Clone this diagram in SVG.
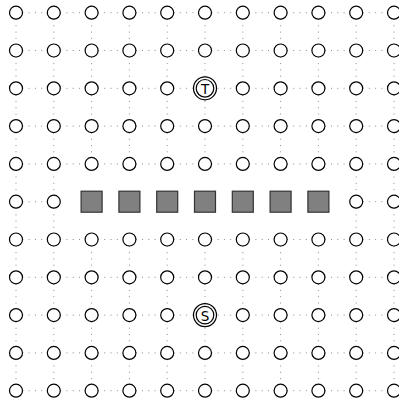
<svg xmlns="http://www.w3.org/2000/svg" width="399" height="401" viewBox="0 0 399 401">
<style>
.e{stroke:#8c8c8c;stroke-width:1;stroke-dasharray:1 5.3;fill:none}
.v{fill:#fff;stroke:#000;stroke-width:1.2}
.o{fill:#808080;stroke:#333;stroke-width:1.2}
.t{font-family:"DejaVu Sans",sans-serif;font-size:13.5px;text-anchor:middle;dominant-baseline:central;fill:#000}
</style>
<rect width="399" height="401" fill="#fff"/>
<g id="connectors">
<path class="e" d="M16 12.7H394M16 50.5H394M16 88.3H394M16 126.1H394M16 163.9H394M16 201.7H53.8M356.2 201.7H394M16 239.5H394M16 277.3H394M16 315.1H394M16 352.9H394M16 390.7H394"/>
<path class="e" d="M16 12.7V390.7M53.8 12.7V390.7M356.2 12.7V390.7M394 12.7V390.7M91.6 12.7V163.9M91.6 239.5V390.7M129.4 12.7V163.9M129.4 239.5V390.7M167.2 12.7V163.9M167.2 239.5V390.7M205 12.7V163.9M205 239.5V390.7M242.8 12.7V163.9M242.8 239.5V390.7M280.6 12.7V163.9M280.6 239.5V390.7M318.4 12.7V163.9M318.4 239.5V390.7"/>
</g>
<g id="nodes">
<g id="n0_0"><circle class="v" cx="16" cy="12.7" r="6.5"/></g>
<g id="n0_1"><circle class="v" cx="53.8" cy="12.7" r="6.5"/></g>
<g id="n0_2"><circle class="v" cx="91.6" cy="12.7" r="6.5"/></g>
<g id="n0_3"><circle class="v" cx="129.4" cy="12.7" r="6.5"/></g>
<g id="n0_4"><circle class="v" cx="167.2" cy="12.7" r="6.5"/></g>
<g id="n0_5"><circle class="v" cx="205" cy="12.7" r="6.5"/></g>
<g id="n0_6"><circle class="v" cx="242.8" cy="12.7" r="6.5"/></g>
<g id="n0_7"><circle class="v" cx="280.6" cy="12.7" r="6.5"/></g>
<g id="n0_8"><circle class="v" cx="318.4" cy="12.7" r="6.5"/></g>
<g id="n0_9"><circle class="v" cx="356.2" cy="12.7" r="6.5"/></g>
<g id="n0_10"><circle class="v" cx="394" cy="12.7" r="6.5"/></g>
<g id="n1_0"><circle class="v" cx="16" cy="50.5" r="6.5"/></g>
<g id="n1_1"><circle class="v" cx="53.8" cy="50.5" r="6.5"/></g>
<g id="n1_2"><circle class="v" cx="91.6" cy="50.5" r="6.5"/></g>
<g id="n1_3"><circle class="v" cx="129.4" cy="50.5" r="6.5"/></g>
<g id="n1_4"><circle class="v" cx="167.2" cy="50.5" r="6.5"/></g>
<g id="n1_5"><circle class="v" cx="205" cy="50.5" r="6.5"/></g>
<g id="n1_6"><circle class="v" cx="242.8" cy="50.5" r="6.5"/></g>
<g id="n1_7"><circle class="v" cx="280.6" cy="50.5" r="6.5"/></g>
<g id="n1_8"><circle class="v" cx="318.4" cy="50.5" r="6.5"/></g>
<g id="n1_9"><circle class="v" cx="356.2" cy="50.5" r="6.5"/></g>
<g id="n1_10"><circle class="v" cx="394" cy="50.5" r="6.5"/></g>
<g id="n2_0"><circle class="v" cx="16" cy="88.3" r="6.5"/></g>
<g id="n2_1"><circle class="v" cx="53.8" cy="88.3" r="6.5"/></g>
<g id="n2_2"><circle class="v" cx="91.6" cy="88.3" r="6.5"/></g>
<g id="n2_3"><circle class="v" cx="129.4" cy="88.3" r="6.5"/></g>
<g id="n2_4"><circle class="v" cx="167.2" cy="88.3" r="6.5"/></g>
<g id="T"><circle class="v" cx="205" cy="88.3" r="11.5"/><circle class="v" cx="205" cy="88.3" r="8.8"/><text class="t" x="205" y="88.8">T</text></g>
<g id="n2_6"><circle class="v" cx="242.8" cy="88.3" r="6.5"/></g>
<g id="n2_7"><circle class="v" cx="280.6" cy="88.3" r="6.5"/></g>
<g id="n2_8"><circle class="v" cx="318.4" cy="88.3" r="6.5"/></g>
<g id="n2_9"><circle class="v" cx="356.2" cy="88.3" r="6.5"/></g>
<g id="n2_10"><circle class="v" cx="394" cy="88.3" r="6.5"/></g>
<g id="n3_0"><circle class="v" cx="16" cy="126.1" r="6.5"/></g>
<g id="n3_1"><circle class="v" cx="53.8" cy="126.1" r="6.5"/></g>
<g id="n3_2"><circle class="v" cx="91.6" cy="126.1" r="6.5"/></g>
<g id="n3_3"><circle class="v" cx="129.4" cy="126.1" r="6.5"/></g>
<g id="n3_4"><circle class="v" cx="167.2" cy="126.1" r="6.5"/></g>
<g id="n3_5"><circle class="v" cx="205" cy="126.1" r="6.5"/></g>
<g id="n3_6"><circle class="v" cx="242.8" cy="126.1" r="6.5"/></g>
<g id="n3_7"><circle class="v" cx="280.6" cy="126.1" r="6.5"/></g>
<g id="n3_8"><circle class="v" cx="318.4" cy="126.1" r="6.5"/></g>
<g id="n3_9"><circle class="v" cx="356.2" cy="126.1" r="6.5"/></g>
<g id="n3_10"><circle class="v" cx="394" cy="126.1" r="6.5"/></g>
<g id="n4_0"><circle class="v" cx="16" cy="163.9" r="6.5"/></g>
<g id="n4_1"><circle class="v" cx="53.8" cy="163.9" r="6.5"/></g>
<g id="n4_2"><circle class="v" cx="91.6" cy="163.9" r="6.5"/></g>
<g id="n4_3"><circle class="v" cx="129.4" cy="163.9" r="6.5"/></g>
<g id="n4_4"><circle class="v" cx="167.2" cy="163.9" r="6.5"/></g>
<g id="n4_5"><circle class="v" cx="205" cy="163.9" r="6.5"/></g>
<g id="n4_6"><circle class="v" cx="242.8" cy="163.9" r="6.5"/></g>
<g id="n4_7"><circle class="v" cx="280.6" cy="163.9" r="6.5"/></g>
<g id="n4_8"><circle class="v" cx="318.4" cy="163.9" r="6.5"/></g>
<g id="n4_9"><circle class="v" cx="356.2" cy="163.9" r="6.5"/></g>
<g id="n4_10"><circle class="v" cx="394" cy="163.9" r="6.5"/></g>
<g id="n5_0"><circle class="v" cx="16" cy="201.7" r="6.5"/></g>
<g id="n5_1"><circle class="v" cx="53.8" cy="201.7" r="6.5"/></g>
<g id="w5_2"><rect class="o" x="81.1" y="191.2" width="21" height="21"/></g>
<g id="w5_3"><rect class="o" x="118.9" y="191.2" width="21" height="21"/></g>
<g id="w5_4"><rect class="o" x="156.7" y="191.2" width="21" height="21"/></g>
<g id="w5_5"><rect class="o" x="194.5" y="191.2" width="21" height="21"/></g>
<g id="w5_6"><rect class="o" x="232.3" y="191.2" width="21" height="21"/></g>
<g id="w5_7"><rect class="o" x="270.1" y="191.2" width="21" height="21"/></g>
<g id="w5_8"><rect class="o" x="307.9" y="191.2" width="21" height="21"/></g>
<g id="n5_9"><circle class="v" cx="356.2" cy="201.7" r="6.5"/></g>
<g id="n5_10"><circle class="v" cx="394" cy="201.7" r="6.5"/></g>
<g id="n6_0"><circle class="v" cx="16" cy="239.5" r="6.5"/></g>
<g id="n6_1"><circle class="v" cx="53.8" cy="239.5" r="6.5"/></g>
<g id="n6_2"><circle class="v" cx="91.6" cy="239.5" r="6.5"/></g>
<g id="n6_3"><circle class="v" cx="129.4" cy="239.5" r="6.5"/></g>
<g id="n6_4"><circle class="v" cx="167.2" cy="239.5" r="6.5"/></g>
<g id="n6_5"><circle class="v" cx="205" cy="239.5" r="6.5"/></g>
<g id="n6_6"><circle class="v" cx="242.8" cy="239.5" r="6.5"/></g>
<g id="n6_7"><circle class="v" cx="280.6" cy="239.5" r="6.5"/></g>
<g id="n6_8"><circle class="v" cx="318.4" cy="239.5" r="6.5"/></g>
<g id="n6_9"><circle class="v" cx="356.2" cy="239.5" r="6.5"/></g>
<g id="n6_10"><circle class="v" cx="394" cy="239.5" r="6.5"/></g>
<g id="n7_0"><circle class="v" cx="16" cy="277.3" r="6.5"/></g>
<g id="n7_1"><circle class="v" cx="53.8" cy="277.3" r="6.5"/></g>
<g id="n7_2"><circle class="v" cx="91.6" cy="277.3" r="6.5"/></g>
<g id="n7_3"><circle class="v" cx="129.4" cy="277.3" r="6.5"/></g>
<g id="n7_4"><circle class="v" cx="167.2" cy="277.3" r="6.5"/></g>
<g id="n7_5"><circle class="v" cx="205" cy="277.3" r="6.5"/></g>
<g id="n7_6"><circle class="v" cx="242.8" cy="277.3" r="6.5"/></g>
<g id="n7_7"><circle class="v" cx="280.6" cy="277.3" r="6.5"/></g>
<g id="n7_8"><circle class="v" cx="318.4" cy="277.3" r="6.5"/></g>
<g id="n7_9"><circle class="v" cx="356.2" cy="277.3" r="6.5"/></g>
<g id="n7_10"><circle class="v" cx="394" cy="277.3" r="6.5"/></g>
<g id="n8_0"><circle class="v" cx="16" cy="315.1" r="6.5"/></g>
<g id="n8_1"><circle class="v" cx="53.8" cy="315.1" r="6.5"/></g>
<g id="n8_2"><circle class="v" cx="91.6" cy="315.1" r="6.5"/></g>
<g id="n8_3"><circle class="v" cx="129.4" cy="315.1" r="6.5"/></g>
<g id="n8_4"><circle class="v" cx="167.2" cy="315.1" r="6.5"/></g>
<g id="S"><circle class="v" cx="205" cy="315.1" r="11.5"/><circle class="v" cx="205" cy="315.1" r="8.8"/><text class="t" x="205" y="315.6">S</text></g>
<g id="n8_6"><circle class="v" cx="242.8" cy="315.1" r="6.5"/></g>
<g id="n8_7"><circle class="v" cx="280.6" cy="315.1" r="6.5"/></g>
<g id="n8_8"><circle class="v" cx="318.4" cy="315.1" r="6.5"/></g>
<g id="n8_9"><circle class="v" cx="356.2" cy="315.1" r="6.5"/></g>
<g id="n8_10"><circle class="v" cx="394" cy="315.1" r="6.5"/></g>
<g id="n9_0"><circle class="v" cx="16" cy="352.9" r="6.5"/></g>
<g id="n9_1"><circle class="v" cx="53.8" cy="352.9" r="6.5"/></g>
<g id="n9_2"><circle class="v" cx="91.6" cy="352.9" r="6.5"/></g>
<g id="n9_3"><circle class="v" cx="129.4" cy="352.9" r="6.5"/></g>
<g id="n9_4"><circle class="v" cx="167.2" cy="352.9" r="6.5"/></g>
<g id="n9_5"><circle class="v" cx="205" cy="352.9" r="6.5"/></g>
<g id="n9_6"><circle class="v" cx="242.8" cy="352.9" r="6.5"/></g>
<g id="n9_7"><circle class="v" cx="280.6" cy="352.9" r="6.5"/></g>
<g id="n9_8"><circle class="v" cx="318.4" cy="352.9" r="6.5"/></g>
<g id="n9_9"><circle class="v" cx="356.2" cy="352.9" r="6.5"/></g>
<g id="n9_10"><circle class="v" cx="394" cy="352.9" r="6.5"/></g>
<g id="n10_0"><circle class="v" cx="16" cy="390.7" r="6.5"/></g>
<g id="n10_1"><circle class="v" cx="53.8" cy="390.7" r="6.5"/></g>
<g id="n10_2"><circle class="v" cx="91.6" cy="390.7" r="6.5"/></g>
<g id="n10_3"><circle class="v" cx="129.4" cy="390.7" r="6.5"/></g>
<g id="n10_4"><circle class="v" cx="167.2" cy="390.7" r="6.5"/></g>
<g id="n10_5"><circle class="v" cx="205" cy="390.7" r="6.5"/></g>
<g id="n10_6"><circle class="v" cx="242.8" cy="390.7" r="6.5"/></g>
<g id="n10_7"><circle class="v" cx="280.6" cy="390.7" r="6.5"/></g>
<g id="n10_8"><circle class="v" cx="318.4" cy="390.7" r="6.5"/></g>
<g id="n10_9"><circle class="v" cx="356.2" cy="390.7" r="6.5"/></g>
<g id="n10_10"><circle class="v" cx="394" cy="390.7" r="6.5"/></g>
</g>
</svg>
